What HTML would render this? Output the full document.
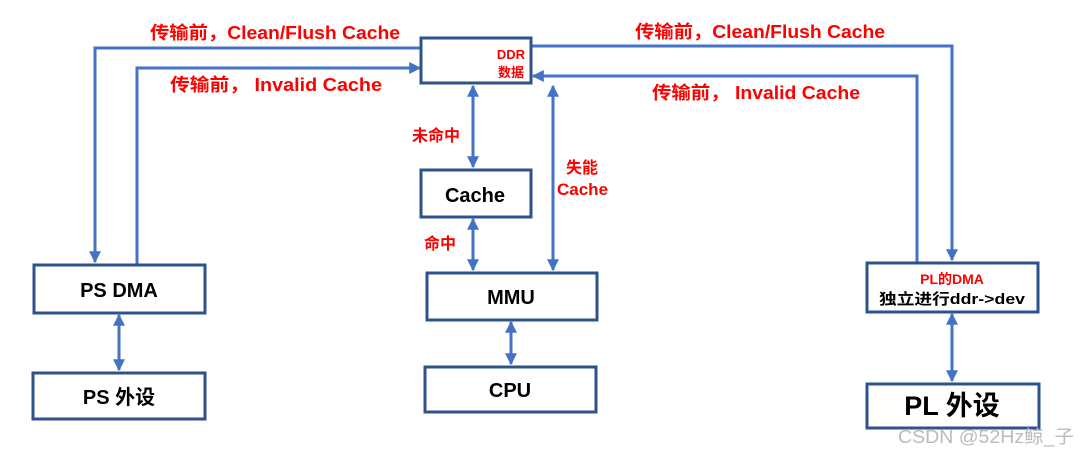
<!DOCTYPE html>
<html><head><meta charset="utf-8"><style>
html,body{margin:0;padding:0;background:#fff;}
svg{display:block;}
text{font-family:"Liberation Sans","Noto Sans CJK SC",sans-serif;font-weight:bold;}
</style></head><body>
<svg width="1080" height="454" viewBox="0 0 1080 454" xmlns="http://www.w3.org/2000/svg">
<defs>
<marker id="a" viewBox="0 0 10 10" refX="9" refY="5" markerWidth="4" markerHeight="4" orient="auto-start-reverse"><path d="M0,0L10,5L0,10z" fill="#4472C4"/></marker>
</defs>
<g fill="none" stroke="#4472C4" stroke-width="3">
<path d="M420,48H95V262" marker-end="url(#a)"/>
<path d="M137,264V68H420" marker-end="url(#a)"/>
<path d="M531,46H952V260" marker-end="url(#a)"/>
<path d="M917,262V76H533" marker-end="url(#a)"/>
<path d="M473,86V167" marker-start="url(#a)" marker-end="url(#a)"/>
<path d="M473,219V270" marker-start="url(#a)" marker-end="url(#a)"/>
<path d="M553,86V270" marker-start="url(#a)" marker-end="url(#a)"/>
<path d="M511,322V364" marker-start="url(#a)" marker-end="url(#a)"/>
<path d="M119,315V370" marker-start="url(#a)" marker-end="url(#a)"/>
<path d="M952,314V381" marker-start="url(#a)" marker-end="url(#a)"/>
</g>
<g fill="#fff" stroke="#2F528F" stroke-width="3">
<rect x="421" y="38" width="110" height="45"/>
<rect x="421" y="170" width="110" height="47"/>
<rect x="34" y="265" width="171" height="48"/>
<rect x="427" y="273" width="170" height="47"/>
<rect x="33" y="373" width="172" height="46"/>
<rect x="425" y="367" width="171" height="45"/>
<rect x="867" y="263" width="171" height="49"/>
<rect x="867" y="384" width="172" height="44"/>
</g>
<g fill="#000" text-anchor="middle">
<text x="475" y="202" font-size="20">Cache</text>
<text x="119" y="297" font-size="20">PS DMA</text>
<text x="511" y="304" font-size="20">MMU</text>
<text x="119" y="404" font-size="20">PS 外设</text>
<text x="510" y="397" font-size="20">CPU</text>
<text x="952" y="304" font-size="15" textLength="146" lengthAdjust="spacingAndGlyphs">独立进行ddr-&gt;dev</text>
<text x="952" y="415" font-size="27">PL 外设</text>
</g>
<g fill="#FF0000" font-size="18">
<text x="150" y="39" textLength="250" lengthAdjust="spacingAndGlyphs">传输前，Clean/Flush Cache</text>
<text x="170" y="91" textLength="212" lengthAdjust="spacingAndGlyphs">传输前， Invalid Cache</text>
<text x="635" y="38" textLength="250" lengthAdjust="spacingAndGlyphs">传输前，Clean/Flush Cache</text>
<text x="652" y="99" textLength="208" lengthAdjust="spacingAndGlyphs">传输前， Invalid Cache</text>
<text x="412" y="141" font-size="16">未命中</text>
<text x="424" y="249" font-size="16">命中</text>
<text x="566" y="173" font-size="16">失能</text>
<text x="557" y="195" font-size="17">Cache</text>
<text x="511" y="59" font-size="13" text-anchor="middle">DDR</text>
<text x="511" y="77" font-size="13" text-anchor="middle">数据</text>
<text x="952" y="284" font-size="14" text-anchor="middle">PL的DMA</text>
</g>
<text x="898" y="443" font-size="18" fill="#bbb" style="font-weight:normal" textLength="176" lengthAdjust="spacingAndGlyphs">CSDN @52Hz鲸_子</text>
</svg>
</body></html>
